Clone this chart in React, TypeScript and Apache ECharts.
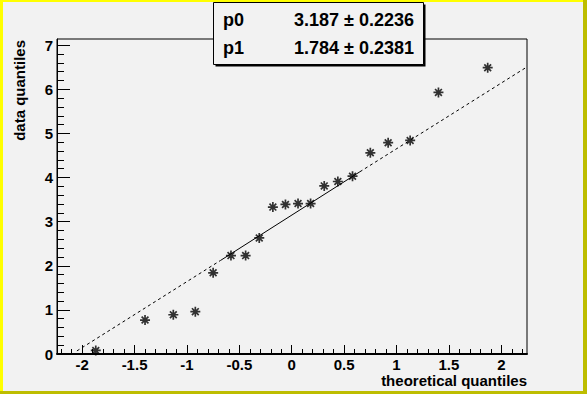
import React, { useEffect, useRef } from "react";
import * as echarts from "echarts";

// ---- data ----
const theoreticalQuantiles = [
  -1.87, -1.4, -1.13, -0.92, -0.75, -0.58, -0.44, -0.31, -0.18, -0.06,
  0.06, 0.18, 0.31, 0.44, 0.58, 0.75, 0.92, 1.13, 1.4, 1.87,
];
const dataQuantiles = [
  0.08, 0.77, 0.89, 0.96, 1.84, 2.23, 2.23, 2.63, 3.33, 3.39,
  3.41, 3.41, 3.81, 3.91, 4.03, 4.56, 4.79, 4.84, 5.93, 6.49,
];
// reference line: dashed tail, solid quartile segment, dashed tail
const fitLineX = [-2.05, -0.68, 0.65, 2.24];
const fitLineY = [0.07, 2.12, 4.13, 6.5];

const xTickValues = [-2, -1.5, -1, -0.5, 0, 0.5, 1, 1.5, 2];
const yTickValues = [0, 1, 2, 3, 4, 5, 6, 7];

const fitParamNames = ["p0", "p1"];
const fitParamValues = ["3.187 \u00b1 0.2236", "1.784 \u00b1 0.2381"];

const xTitle = "theoretical quantiles";
const yTitle = "data quantiles";

const X_MIN = -2.24;
const X_MAX = 2.245;
const Y_MIN = 0;
const Y_MAX = 7.14;

const FONT = "'Liberation Sans', Arial, Helvetica, sans-serif";
const BG = "#f2f2f2";

function minorTicks(min: number, max: number, step: number): number[] {
  const out: number[] = [];
  const start = Math.ceil(min / step - 1e-9);
  const end = Math.floor(max / step + 1e-9);
  for (let i = start; i <= end; i++) out.push(+(i * step).toFixed(4));
  return out;
}

const STAR = "path://M0,5L10,5M5,0L5,10M1.6,1.6L8.4,8.4M8.4,1.6L1.6,8.4";

export default function App() {
  const ref = useRef<HTMLDivElement>(null);
  useEffect(() => {
    if (!ref.current) return;
    const chart = echarts.init(ref.current, undefined, { renderer: "svg" });

    const pts = theoreticalQuantiles.map((x, i) => [x, dataQuantiles[i]]);
    const seg = (a: number, b: number) => [
      [fitLineX[a], fitLineY[a]],
      [fitLineX[b], fitLineY[b]],
    ];

    const labelStyle = {
      fontFamily: FONT,
      fontWeight: "bold" as const,
      fontSize: 15,
      lineHeight: 15,
      color: "#000",
    };

    chart.setOption({
      animation: false,
      backgroundColor: BG,
      grid: {
        left: 57,
        right: 60,
        top: 39,
        bottom: 40,
        show: true,
        backgroundColor: "transparent",
        borderColor: "#000",
        borderWidth: 1,
      },
      xAxis: [
        {
          type: "value",
          position: "bottom",
          min: X_MIN,
          max: X_MAX,
          axisLine: { show: true, onZero: false, lineStyle: { color: "#000", width: 2 } },
          axisTick: {
            show: true,
            inside: true,
            length: 9,
            customValues: xTickValues,
            lineStyle: { color: "#000", width: 1 },
          },
          axisLabel: { ...labelStyle, margin: 3, customValues: xTickValues },
          splitLine: { show: false },
        },
        {
          type: "value",
          position: "bottom",
          min: X_MIN,
          max: X_MAX,
          axisLine: { show: false, onZero: false },
          axisTick: {
            show: true,
            inside: true,
            length: 5,
            customValues: minorTicks(X_MIN, X_MAX, 0.1),
            lineStyle: { color: "#000", width: 1 },
          },
          axisLabel: { show: false },
          splitLine: { show: false },
        },
      ],
      yAxis: [
        {
          type: "value",
          position: "left",
          min: Y_MIN,
          max: Y_MAX,
          axisLine: { show: true, onZero: false, lineStyle: { color: "#000", width: 1 } },
          axisTick: {
            show: true,
            inside: true,
            length: 13,
            customValues: yTickValues,
            lineStyle: { color: "#000", width: 1 },
          },
          axisLabel: { ...labelStyle, margin: 4, customValues: yTickValues },
          splitLine: { show: false },
        },
        {
          type: "value",
          position: "left",
          min: Y_MIN,
          max: Y_MAX,
          axisLine: { show: false, onZero: false },
          axisTick: {
            show: true,
            inside: true,
            length: 7,
            customValues: minorTicks(Y_MIN, Y_MAX, 0.2),
            lineStyle: { color: "#000", width: 1 },
          },
          axisLabel: { show: false },
          splitLine: { show: false },
        },
      ],
      series: [
        {
          type: "line",
          data: seg(0, 1),
          symbol: "none",
          lineStyle: { color: "#000", width: 1, type: [3, 3] },
          silent: true,
        },
        {
          type: "line",
          data: seg(1, 2),
          symbol: "none",
          lineStyle: { color: "#000", width: 1, type: "solid" },
          silent: true,
        },
        {
          type: "line",
          data: seg(2, 3),
          symbol: "none",
          lineStyle: { color: "#000", width: 1, type: [3, 3] },
          silent: true,
        },
        {
          type: "scatter",
          data: pts,
          symbol: STAR,
          symbolSize: 10,
          itemStyle: { color: "transparent", borderColor: "#000", borderWidth: 1.7 },
          silent: true,
          z: 5,
        },
      ],
      graphic: [
        // canvas bevel border
        { type: "rect", shape: { x: 0, y: 0, width: 587, height: 2 }, style: { fill: "#ffff00" }, z: 100 },
        { type: "rect", shape: { x: 0, y: 0, width: 3, height: 394 }, style: { fill: "#ffff00" }, z: 100 },
        { type: "rect", shape: { x: 583, y: 0, width: 4, height: 394 }, style: { fill: "#bdbd00" }, z: 101 },
        { type: "rect", shape: { x: 0, y: 391, width: 587, height: 3 }, style: { fill: "#bdbd00" }, z: 101 },
        // axis titles
        {
          type: "text",
          x: 527,
          y: 380,
          style: {
            text: xTitle,
            font: `bold 15px ${FONT}`,
            lineHeight: 15,
            fill: "#000",
            align: "right",
            verticalAlign: "middle",
          },
          z: 50,
        },
        {
          type: "text",
          x: 19.5,
          y: 40,
          rotation: Math.PI / 2,
          style: {
            text: yTitle,
            font: `bold 15px ${FONT}`,
            lineHeight: 15,
            fill: "#000",
            align: "right",
            verticalAlign: "middle",
          },
          z: 50,
        },
        // fit statistics box
        {
          type: "rect",
          shape: { x: 215.5, y: 4.5, width: 210, height: 62 },
          style: { fill: "#000" },
          z: 60,
        },
        {
          type: "rect",
          shape: { x: 213.5, y: 2.5, width: 210, height: 62 },
          style: { fill: BG, stroke: "#000", lineWidth: 1 },
          z: 61,
        },
        ...fitParamNames.map((name, i) => ({
          type: "text",
          x: 223,
          y: 20 + i * 28,
          style: {
            text: name,
            font: `bold 18px ${FONT}`,
            fill: "#000",
            align: "left",
            verticalAlign: "middle",
          },
          z: 62,
        })),
        ...fitParamValues.map((val, i) => ({
          type: "text",
          x: 414,
          y: 20 + i * 28,
          style: {
            text: val,
            font: `bold 18px ${FONT}`,
            fill: "#000",
            align: "right",
            verticalAlign: "middle",
          },
          z: 62,
        })),
      ],
    });

    return () => chart.dispose();
  }, []);

  return (
    <div
      ref={ref}
      style={{ position: "fixed", left: 0, top: 0, width: 587, height: 394 }}
    />
  );
}
